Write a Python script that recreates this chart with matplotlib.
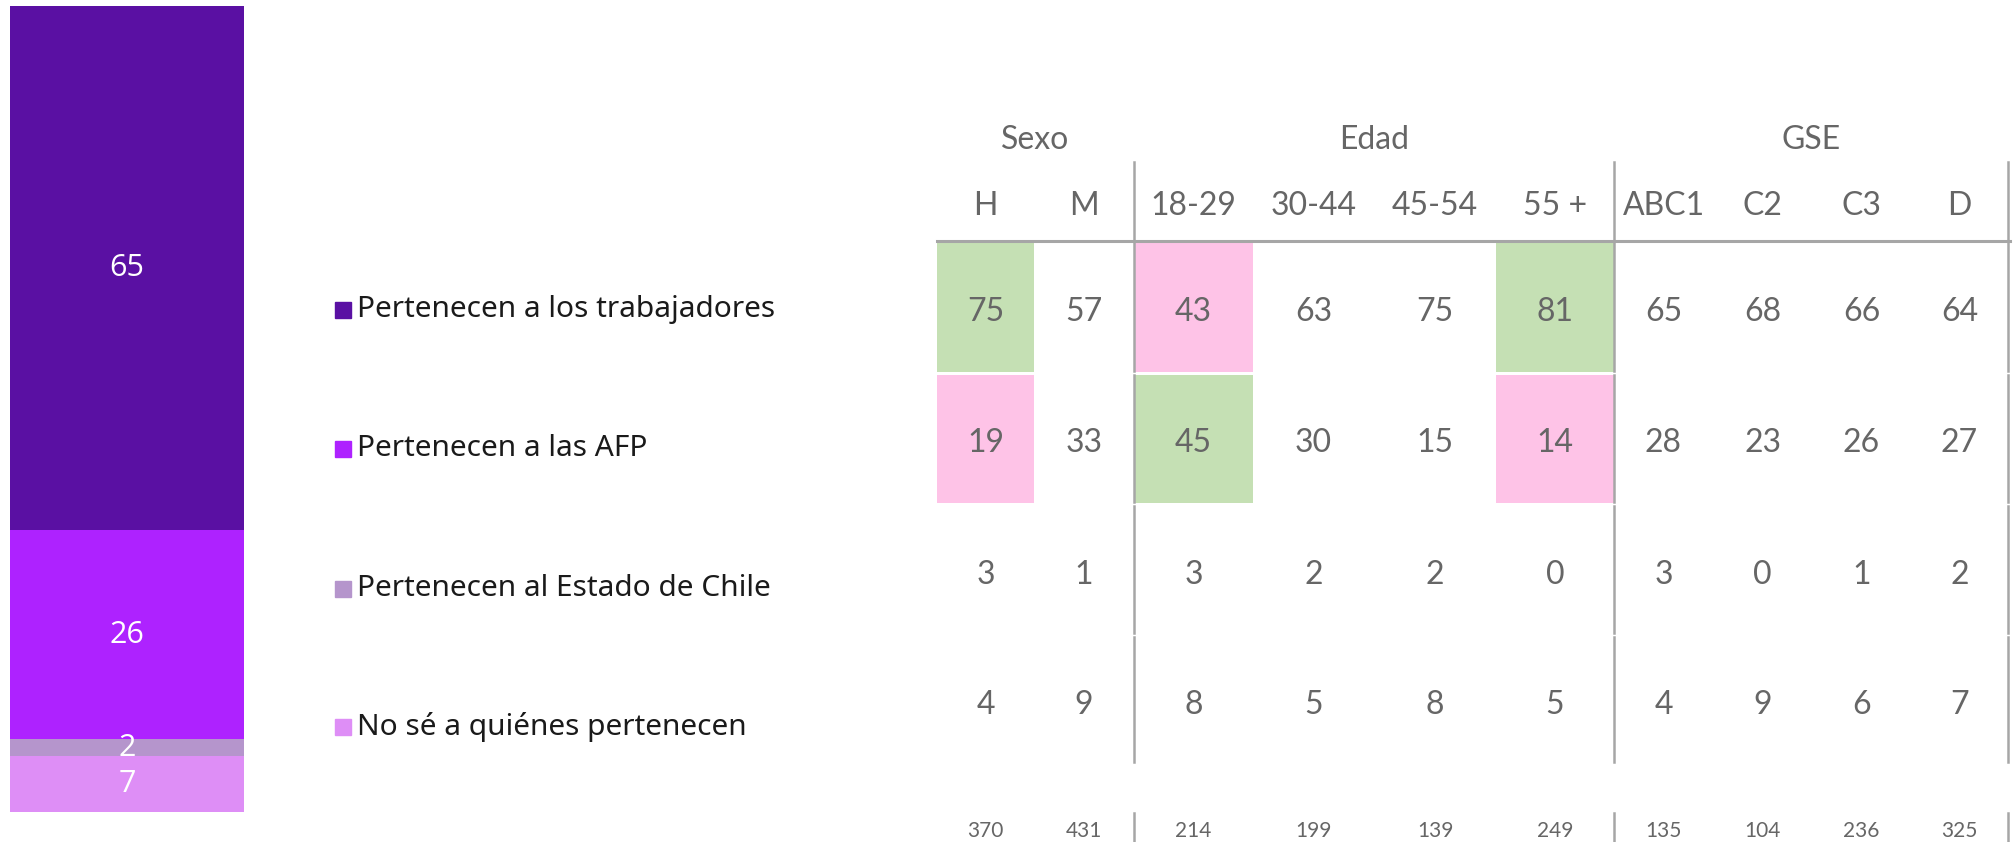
import matplotlib.pyplot as plt
from matplotlib.patches import Rectangle

# total stacked bar (bottom to top order reversed below)
categories = ['Pertenecen a los trabajadores', 'Pertenecen a las AFP',
              'Pertenecen al Estado de Chile', 'No sé a quiénes pertenecen']
totals = [65, 26, 2, 7]
colors = ['#5A10A3', '#AE22FF', '#B595CC', '#DE8EF6']

groups = ['Sexo', 'Edad', 'GSE']
group_sizes = [2, 4, 4]
subgroups = ['H', 'M', '18-29', '30-44', '45-54', '55 +', 'ABC1', 'C2', 'C3', 'D']
table = [
    [75, 57, 43, 63, 75, 81, 65, 68, 66, 64],
    [19, 33, 45, 30, 15, 14, 28, 23, 26, 27],
    [3, 1, 3, 2, 2, 0, 3, 0, 1, 2],
    [4, 9, 8, 5, 8, 5, 4, 9, 6, 7],
]
n_base = [370, 431, 214, 199, 139, 249, 135, 104, 236, 325]
# highlight: 'g' above, 'p' below
highlight = {(0, 0): 'g', (1, 0): 'p', (0, 2): 'p', (1, 2): 'g',
             (0, 5): 'g', (1, 5): 'p'}
hl_colors = {'g': '#C5E0B4', 'p': '#FEC3E7'}

W, H = 2013, 842
fig = plt.figure(figsize=(W / 100, H / 100), dpi=100)

# stacked bar
axb = fig.add_axes([10 / W, (H - 812) / H, 234 / W, 806 / H])
bottom = 0
for val, col in reversed(list(zip(totals, colors))):
    axb.bar(0, val, bottom=bottom, width=1, color=col)
    axb.text(0, bottom + val / 2, str(val), ha='center', va='center',
             color='white', fontsize=22, family='Open Sans')
    bottom += val
axb.set_xlim(-0.5, 0.5)
axb.set_ylim(0, 100)
axb.axis('off')

# page axes in pixel units for legend + table
ax = fig.add_axes([0, 0, 1, 1])
ax.set_xlim(0, W)
ax.set_ylim(H, 0)
ax.axis('off')

leg_y = [310, 449, 589, 727]
for lab, col, y in zip(categories, colors, leg_y):
    ax.add_patch(Rectangle((335, y - 8), 16, 16, color=col))
    ax.text(357, y, lab, ha='left', va='center', fontsize=21.5,
            family='Noto Sans', color='#1a1a1a')

col_edges = [937, 1034, 1134, 1253, 1374, 1496, 1614, 1713, 1812, 1911, 2008]
row_edges = [241, 373, 504, 635, 764]
txt_col = '#666666'
line_col = '#A6A6A6'
tfont = dict(family='Lato', fontweight='normal', color=txt_col)

# group headers
start = 0
for g, size in zip(groups, group_sizes):
    xc = (col_edges[start] + col_edges[start + size]) / 2
    ax.text(xc, 140, g, ha='center', va='center', fontsize=23, **tfont)
    start += size

for j, sg in enumerate(subgroups):
    xc = (col_edges[j] + col_edges[j + 1]) / 2
    ax.text(xc, 206, sg, ha='center', va='center', fontsize=23, **tfont)
    for i, row in enumerate(table):
        y0, y1 = row_edges[i], row_edges[i + 1]
        if (i, j) in highlight:
            ax.add_patch(Rectangle((col_edges[j], y0 + 2), col_edges[j + 1] - col_edges[j],
                                   y1 - y0 - 3, color=hl_colors[highlight[(i, j)]], lw=0))
        ax.text(xc, (y0 + y1) / 2 + 5, str(row[j]), ha='center', va='center',
                fontsize=23, **tfont)
    ax.text(xc, 831, str(n_base[j]), ha='center', va='center', fontsize=15, **tfont)

# lines
ax.plot([937, 2010], [241, 241], color=line_col, lw=2.2)
sep_x = [col_edges[2], col_edges[6], col_edges[10]]
for x in sep_x:
    ax.plot([x, x], [162, 241], color=line_col, lw=1.8)
    for i in range(4):
        ax.plot([x, x], [row_edges[i] + 2, row_edges[i + 1] - 2], color=line_col, lw=1.8)
    ax.plot([x, x], [813, 842], color=line_col, lw=1.8)

fig.savefig('out.png', dpi=100)
